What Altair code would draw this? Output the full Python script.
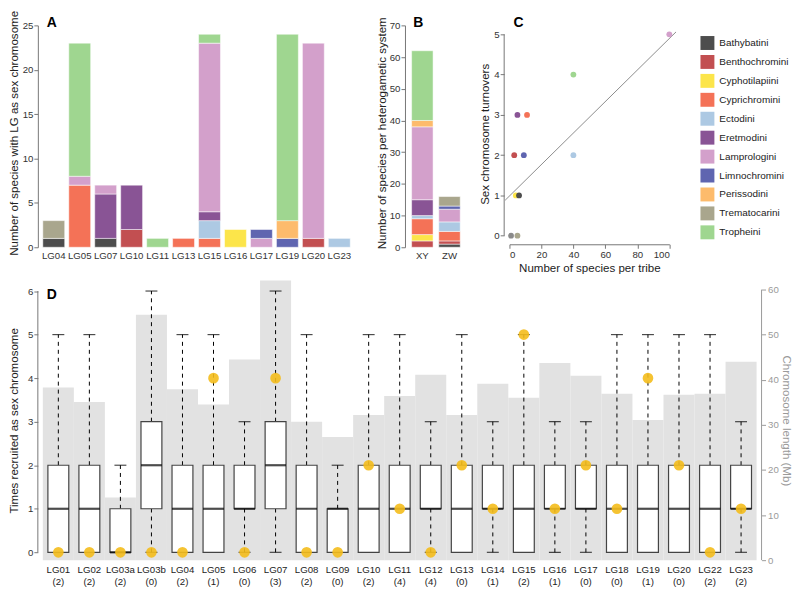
import altair as alt
import pandas as pd

FONT = "Liberation Sans"

# ---------------- shared tribe colours ----------------
tribes = ["Bathybatini", "Benthochromini", "Cyphotilapiini", "Cyprichromini", "Ectodini",
          "Eretmodini", "Lamprologini", "Limnochromini", "Perissodini", "Trematocarini", "Tropheini"]
tribe_colors = ["#4d4d4d", "#c24f51", "#fce54a", "#f47257", "#adc9e3",
                "#895495", "#d3a0cb", "#5f65b0", "#fdbb6c", "#a9a68d", "#9fd690"]
other_name = "Other"
other_color = "#8a8a8a"

# ---------------- panel A ----------------
a_lgs = ["LG04", "LG05", "LG07", "LG10", "LG11", "LG13", "LG15", "LG16", "LG17", "LG19", "LG20", "LG23"]
a_bathybatini    = [1, 0, 1, 0, 0, 0, 0, 0, 0, 0, 0, 0]
a_benthochromini = [0, 0, 0, 2, 0, 0, 0, 0, 0, 0, 1, 0]
a_cyphotilapiini = [0, 0, 0, 0, 0, 0, 0, 2, 0, 0, 0, 0]
a_cyprichromini  = [0, 7, 0, 0, 0, 1, 1, 0, 0, 0, 0, 0]
a_ectodini       = [0, 0, 0, 0, 0, 0, 2, 0, 0, 0, 0, 1]
a_eretmodini     = [0, 0, 5, 5, 0, 0, 1, 0, 0, 0, 0, 0]
a_lamprologini   = [0, 1, 1, 0, 0, 0, 19, 0, 1, 0, 22, 0]
a_limnochromini  = [0, 0, 0, 0, 0, 0, 0, 0, 1, 1, 0, 0]
a_perissodini    = [0, 0, 0, 0, 0, 0, 0, 0, 0, 2, 0, 0]
a_trematocarini  = [2, 0, 0, 0, 0, 0, 0, 0, 0, 0, 0, 0]
a_tropheini      = [0, 15, 0, 0, 1, 0, 1, 0, 0, 21, 0, 0]

# ---------------- panel B ----------------
b_systems = ["XY", "ZW"]
b_xy = [0, 2, 2, 5, 1, 5, 23, 0, 2, 0, 22]   # tribe order
b_zw = [1, 1, 0, 3, 3, 0, 4, 1, 0, 3, 0]

# ---------------- panel C ----------------
c_tribe = ["Other", "Trematocarini", "Cyphotilapiini", "Bathybatini", "Benthochromini", "Limnochromini",
           "Ectodini", "Eretmodini", "Cyprichromini", "Tropheini", "Lamprologini"]
c_species = [1, 5, 4, 6, 3, 9, 40, 5, 11, 40, 100]
c_turnovers = [0, 0, 1, 1, 2, 2, 2, 3, 3, 4, 5]
c_fit_x = [-2.7, 104.2]
c_fit_y = [0.88, 5.06]

# ---------------- panel D ----------------
d_lgs = ["LG01", "LG02", "LG03a", "LG03b", "LG04", "LG05", "LG06", "LG07", "LG08", "LG09", "LG10", "LG11",
         "LG12", "LG13", "LG14", "LG15", "LG16", "LG17", "LG18", "LG19", "LG20", "LG22", "LG23"]
d_n   = [2, 2, 2, 0, 2, 1, 0, 3, 2, 0, 2, 4, 4, 0, 1, 2, 1, 0, 0, 1, 0, 2, 2]
d_len = [38.3, 35.1, 13.9, 54.4, 37.9, 34.5, 44.5, 62.0, 30.7, 27.3, 32.2, 36.4,
         41.1, 32.2, 39.1, 36.0, 43.7, 40.9, 36.9, 31.1, 36.7, 36.9, 44.0]
d_lo  = [0] * 23
d_q1  = [0, 0, 0, 1, 0, 0, 1, 1, 0, 0, 0, 0, 1, 0, 1, 0, 1, 1, 0, 0, 0, 0, 1]
d_med = [1, 1, 0, 2, 1, 1, 1, 2, 1, 1, 1, 1, 1, 1, 1, 1, 1, 1, 1, 1, 1, 1, 1]
d_q3  = [2, 2, 1, 3, 2, 2, 2, 3, 2, 1, 2, 2, 2, 2, 2, 2, 2, 2, 2, 2, 2, 2, 2]
d_hi  = [5, 5, 2, 6, 5, 5, 3, 6, 5, 2, 5, 5, 3, 5, 3, 5, 3, 3, 5, 5, 5, 5, 3]
d_obs = [0, 0, 0, 0, 0, 4, 0, 4, 0, 0, 2, 1, 0, 2, 1, 5, 1, 2, 1, 4, 2, 0, 1]

# ---------------- layout constants ----------------
A_PLOT = 309.0
A_W = 333.3
B_PLOT = 62.2
B_W = 74.3
C_W = 160.7
C_H = 211.4
LEG_W = 80
H_TOP = 223
SP = 30
D_W = 717.4
D_H = 281
V_SP = 6.5
EXT = 16
TITLE_Y = 108

color_scale = alt.Scale(domain=tribes + [other_name], range=tribe_colors + [other_color])
AX = "#777777"


def letter(t, dx, dy):
    return alt.Chart(pd.DataFrame({"t": [t]})).mark_text(
        align="left", baseline="alphabetic", fontSize=14, fontWeight="bold", font=FONT, color="black"
    ).encode(text="t:N", x=alt.value(dx), y=alt.value(dy))


# ---------- A ----------
a_series = [a_bathybatini, a_benthochromini, a_cyphotilapiini, a_cyprichromini, a_ectodini, a_eretmodini,
            a_lamprologini, a_limnochromini, a_perissodini, a_trematocarini, a_tropheini]
rows = []
for ti, (t, vals) in enumerate(zip(tribes, a_series)):
    for lg, v in zip(a_lgs, vals):
        if v > 0:
            rows.append({"lg": lg, "tribe": t, "count": v, "ord": ti})
df_a = pd.DataFrame(rows)

a_bars = alt.Chart(df_a).mark_bar(stroke="white", strokeWidth=0.5).encode(
    x=alt.X("lg:N", sort=a_lgs,
            scale=alt.Scale(paddingInner=0.157, paddingOuter=0, range=[0, A_PLOT]),
            axis=alt.Axis(title=None, ticks=False, domain=False, labelAngle=0, labelPadding=3)),
    y=alt.Y("count:Q", stack="zero", scale=alt.Scale(domain=[0, 25], nice=False),
            axis=alt.Axis(values=[0, 5, 10, 15, 20, 25], offset=5, minExtent=EXT, maxExtent=EXT,
                          titleY=TITLE_Y, title="Number of species with LG as sex chromosome")),
    color=alt.Color("tribe:N", scale=color_scale, legend=None),
    order=alt.Order("ord:Q", sort="ascending"),
)
chart_a = alt.layer(a_bars, letter("A", 4, 1.7)).properties(width=A_W, height=H_TOP)

# ---------- B ----------
rows = []
for ti, t in enumerate(tribes):
    for s, v in zip(b_systems, [b_xy[ti], b_zw[ti]]):
        if v > 0:
            rows.append({"sys": s, "tribe": t, "count": v, "ord": ti})
df_b = pd.DataFrame(rows)

b_bars = alt.Chart(df_b).mark_bar(stroke="white", strokeWidth=0.5).encode(
    x=alt.X("sys:N", sort=b_systems,
            scale=alt.Scale(paddingInner=0.21, paddingOuter=0.245, range=[0, B_PLOT]),
            axis=alt.Axis(title=None, ticks=False, domain=False, labelAngle=0, labelPadding=3)),
    y=alt.Y("count:Q", stack="zero", scale=alt.Scale(domain=[0, 70], nice=False),
            axis=alt.Axis(values=[0, 10, 20, 30, 40, 50, 60, 70], titleY=TITLE_Y,
                          title="Number of species per heterogametic system")),
    color=alt.Color("tribe:N", scale=color_scale, legend=None),
    order=alt.Order("ord:Q", sort="ascending"),
)
chart_b = alt.layer(b_bars, letter("B", 8.3, 1.7)).properties(width=B_W, height=H_TOP)

# ---------- C ----------
df_c = pd.DataFrame({"tribe": c_tribe, "species": c_species, "turn": c_turnovers})
df_fit = pd.DataFrame({"x": c_fit_x, "y": c_fit_y})
cx_scale = alt.Scale(domain=[0, 100], nice=False)
cy_scale = alt.Scale(domain=[0, 5.222], nice=False)
cx_axis = alt.Axis(values=[0, 20, 40, 60, 80, 100], offset=8.6, title="Number of species per tribe",
                   titlePadding=3, labelPadding=1.5)
cy_axis = alt.Axis(values=[0, 1, 2, 3, 4, 5], offset=5.3, domain=False, title="Sex chromosome turnovers",
                   titlePadding=3, titleY=109)

c_fit = alt.Chart(df_fit).mark_line(color="#8c8c8c", strokeWidth=1).encode(
    x=alt.X("x:Q", scale=cx_scale, axis=cx_axis),
    y=alt.Y("y:Q", scale=cy_scale, axis=cy_axis),
)
c_pts = alt.Chart(df_c).mark_circle(size=34, opacity=1).encode(
    x=alt.X("species:Q", scale=cx_scale, axis=cx_axis),
    y=alt.Y("turn:Q", scale=cy_scale, axis=cy_axis),
    color=alt.Color("tribe:N", scale=color_scale, legend=None),
)
c_rule = alt.Chart(pd.DataFrame({"lo": [0], "hi": [5]})).mark_rule(color=AX, strokeWidth=1).encode(
    y=alt.Y("lo:Q", scale=cy_scale, axis=cy_axis), y2="hi:Q", x=alt.value(-5.3)
)
chart_c = alt.layer(c_fit, c_pts, c_rule, letter("C", 4, 1.7)).properties(width=C_W, height=C_H)

# ---------- legend ----------
df_leg = pd.DataFrame({"tribe": tribes})
leg_y = alt.Y("tribe:N", sort=tribes, axis=None, scale=alt.Scale(range=[17.7, 208.0], padding=0))
leg_sq = alt.Chart(df_leg).mark_square(size=196, opacity=1).encode(
    y=leg_y, x=alt.value(8), color=alt.Color("tribe:N", scale=color_scale, legend=None))
leg_tx = alt.Chart(df_leg).mark_text(align="left", baseline="middle", fontSize=10, font=FONT,
                                     color="#222").encode(y=leg_y, x=alt.value(20), text="tribe:N")
chart_leg = alt.layer(leg_sq, leg_tx).properties(width=LEG_W, height=H_TOP)

# ---------- D ----------
d_labels = [f"{lg} ({n})" for lg, n in zip(d_lgs, d_n)]
df_d = pd.DataFrame({"lab": d_labels, "len": d_len, "lo": d_lo, "q1": d_q1, "med": d_med,
                     "q3": d_q3, "hi": d_hi, "obs": d_obs})

xD = alt.X("lab:N", sort=d_labels, scale=alt.Scale(paddingInner=0, paddingOuter=0),
           axis=alt.Axis(title=None, ticks=False, domain=False, labelAngle=0,
                         labelExpr="split(datum.value, ' ')", labelPadding=4, labelLineHeight=12,
                         labelColor="#222"))
rscale = alt.Scale(domain=[0, 62], nice=False)
raxis = alt.Axis(orient="right", values=[0, 10, 20, 30, 40, 50, 60], offset=5, domain=False,
                 title="Chromosome length (Mb)", titleColor="#9a9a9a", labelColor="#9a9a9a",
                 tickColor="#9a9a9a", labelPadding=2)
lscale = alt.Scale(domain=[-0.18, 6.24], nice=False)
laxis = alt.Axis(orient="left", values=[0, 1, 2, 3, 4, 5, 6], offset=5, domain=False,
                 minExtent=EXT, maxExtent=EXT, title="Times recruited as sex chromosome")


def yL(f):
    return alt.Y(f"{f}:Q", scale=lscale, axis=laxis)


base = alt.Chart(df_d)
gray = base.mark_bar(color="#e2e2e2").encode(x=xD, y=alt.Y("len:Q", scale=rscale, axis=raxis))
r_rule = alt.Chart(pd.DataFrame({"lo": [0], "hi": [60]})).mark_rule(color="#9a9a9a").encode(
    y=alt.Y("lo:Q", scale=rscale, axis=raxis), y2="hi:Q", x=alt.value(D_W + 5))
right_layer = alt.layer(gray, r_rule)

lower = base.transform_filter("datum.lo < datum.q1")
wh_up = base.mark_rule(color="black", strokeWidth=1, strokeDash=[4, 4]).encode(x=xD, y=yL("q3"), y2="hi:Q")
wh_lo = lower.mark_rule(color="black", strokeWidth=1, strokeDash=[4, 4]).encode(x=xD, y=yL("lo"), y2="q1:Q")
box = base.mark_bar(size=21, fill="white", stroke="#444444", strokeWidth=1.2).encode(
    x=xD, y=yL("q1"), y2="q3:Q")
med = base.mark_tick(color="black", thickness=2.2, size=21).encode(x=xD, y=yL("med"))
cap_hi = base.mark_tick(color="black", thickness=1.2, size=12).encode(x=xD, y=yL("hi"))
cap_lo = lower.mark_tick(color="black", thickness=1.2, size=12).encode(x=xD, y=yL("lo"))
dots = base.mark_circle(size=115, color="#F4BC1C", opacity=0.9).encode(x=xD, y=yL("obs"))
l_rule = alt.Chart(pd.DataFrame({"lo": [0], "hi": [6]})).mark_rule(color=AX).encode(
    y=yL("lo"), y2="hi:Q", x=alt.value(-5))
left_layer = alt.layer(wh_up, wh_lo, box, med, cap_hi, cap_lo, dots, l_rule, letter("D", 4, 19))

chart_d = alt.layer(right_layer, left_layer).resolve_scale(y="independent").properties(width=D_W, height=D_H)

top = alt.hconcat(chart_a, chart_b, chart_c, chart_leg, spacing=SP, bounds="flush")
chart = alt.vconcat(top, chart_d, spacing=V_SP, bounds="full").properties(padding=0).configure_view(
    stroke=None
).configure_axis(
    labelFont=FONT, titleFont=FONT, labelFontSize=9.7, titleFontSize=11.6, titleFontWeight="normal",
    labelColor="#333333", titleColor="#222222", domainColor=AX, tickColor=AX, tickSize=4,
    labelPadding=1, titlePadding=2, grid=False
)

chart.save("out.html", embed_options={"renderer": "svg", "actions": False})
